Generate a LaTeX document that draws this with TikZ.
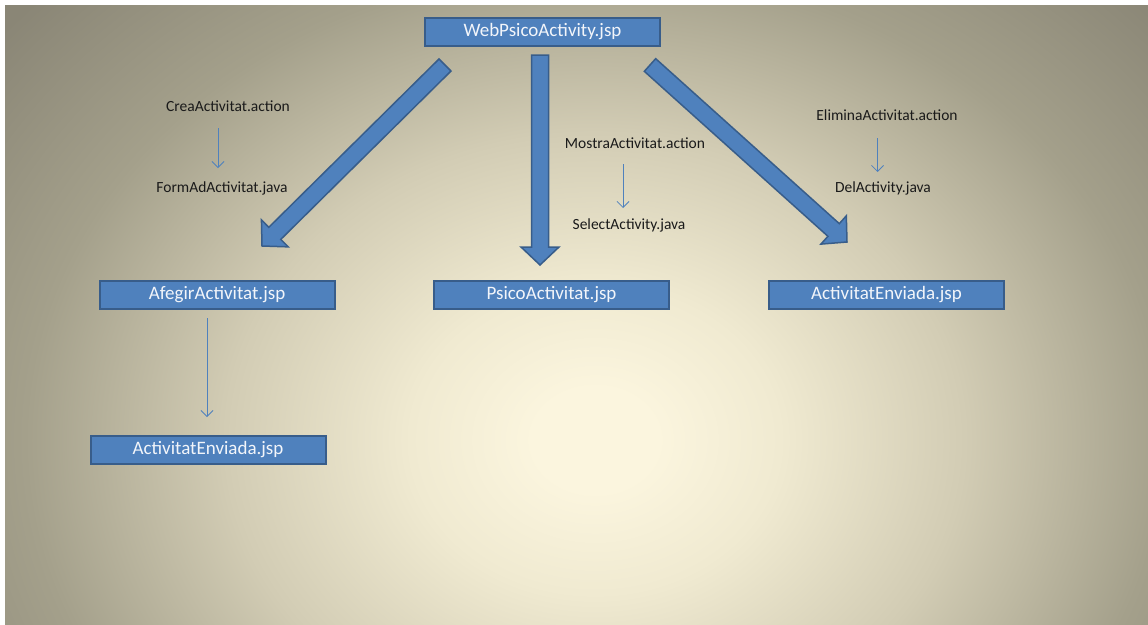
\documentclass[tikz,border=0pt]{standalone}
\usepackage{fontspec}
\setmainfont{Carlito}
\usetikzlibrary{calc,arrows.meta}
\definecolor{boxfill}{HTML}{4F81BD}
\definecolor{boxborder}{HTML}{385D8A}
\definecolor{boxtext}{HTML}{F2F5FA}
\definecolor{labtext}{HTML}{1A1A1A}
\definecolor{bgc}{HTML}{FBF5DE}
\definecolor{bga}{HTML}{F0EAD1}
\definecolor{bgm}{HTML}{D2CCB4}
\definecolor{bgo}{HTML}{A4A08B}
\definecolor{bge}{HTML}{8A8676}
\pgfdeclareradialshading{slidebg}{\pgfpoint{0bp}{0bp}}{color(0bp)=(bgc); color(1bp)=(bgc); color(3bp)=(bga); color(6bp)=(bgm); color(9.25bp)=(bgo); color(12.5bp)=(bge); color(50bp)=(bge)}
\newcommand\blockarrow[2]{%
  \filldraw[fill=boxfill, draw=boxborder, line width=1.5pt, line join=miter]
    ($(#1)!8.5pt!90:(#2)$) --
    ($($(#2)!18pt!(#1)$)!8.5pt!90:(#2)$) --
    ($($(#2)!18pt!(#1)$)!19pt!90:(#2)$) --
    (#2) --
    ($($(#2)!18pt!(#1)$)!19pt!-90:(#2)$) --
    ($($(#2)!18pt!(#1)$)!8.5pt!-90:(#2)$) --
    ($(#1)!8.5pt!-90:(#2)$) -- cycle;}
\tikzset{
  box/.style={draw=boxborder, line width=2pt, fill=boxfill, minimum width=235pt,
    minimum height=28pt, inner sep=0pt, text=boxtext, font=\fontsize{19}{21}\selectfont},
  lab/.style={font=\fontsize{15.5}{17}\selectfont, text=labtext, inner sep=0pt},
  thinarrow/.style={draw=boxfill, line width=0.8pt, -{Straight Barb[length=6pt,width=12pt]}}
}
\begin{document}
\begin{tikzpicture}[x=1pt,y=-1pt]
\useasboundingbox (0,0) rectangle (1148,624);
\fill[white] (0,0) rectangle (1148,624);
\begin{scope}
  \clip (5,5) rectangle (1148,624);
  \shade[shading=slidebg] (595,440) ellipse (1540 and 1280);
\end{scope}

% boxes
\node[box] (web) at (542.5,31.5) {WebPsicoActivity.jsp};
\node[box] (afegir) at (217,295) {AfegirActivitat.jsp};
\node[box] (env1) at (208,449.5) {ActivitatEnviada.jsp};
\node[box] (psico) at (551.5,295) {PsicoActivitat.jsp};
\node[box] (env2) at (886.5,295) {ActivitatEnviada.jsp};

% block arrow end points
\coordinate (aL) at (445,65);
\coordinate (tL) at (262,246);
\coordinate (aC) at (540,55);
\coordinate (tC) at (540,265);
\coordinate (aR) at (650,65);
\coordinate (tR) at (847,242);
\blockarrow{aL}{tL}
\blockarrow{aC}{tC}
\blockarrow{aR}{tR}

% labels
\node[lab] (crea) at (228,106) {CreaActivitat.action};
\node[lab] (form) at (222,188) {FormAdActivitat.java};
\node[lab] (mostra) at (635,143) {MostraActivitat.action};
\node[lab] (select) at (629,225) {SelectActivity.java};
\node[lab] (elimina) at (887,115) {EliminaActivitat.action};
\node[lab] (del) at (883,188) {DelActivity.java};

% thin arrows
\coordinate (c1) at (218,128); \coordinate (c2) at (218,168);
\coordinate (m1) at (623,164); \coordinate (m2) at (623,208);
\coordinate (e1) at (877.5,138); \coordinate (e2) at (877.5,172);
\coordinate (f1) at (207,318); \coordinate (f2) at (207,417);
\draw[thinarrow] (c1) -- (c2);
\draw[thinarrow] (m1) -- (m2);
\draw[thinarrow] (e1) -- (e2);
\draw[thinarrow] (f1) -- (f2);
\end{tikzpicture}
\end{document}
